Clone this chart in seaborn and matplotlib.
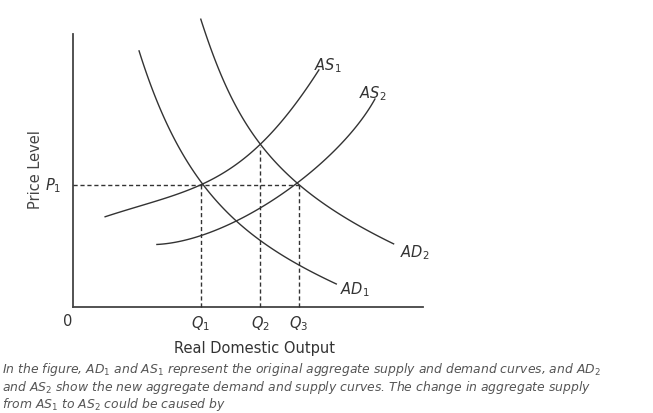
import matplotlib
matplotlib.use("Agg")
import matplotlib.pyplot as plt
import seaborn as sns
import pandas as pd
import numpy as np

# curve points (output, price) in chart units
as1_x = [32, 67, 102, 128, 157, 185, 217, 245]
as1_y = [90, 101, 113, 122, 138, 160, 196, 236]
as2_x = [84, 117, 157, 187, 226, 257, 282, 302]
as2_y = [61, 70, 86, 96, 122, 153, 183, 206]
ad1_x = [65, 87, 107, 128, 157, 187, 226, 262]
ad1_y = [256, 203, 160, 122, 90, 68, 43, 23]
ad2_x = [127, 147, 167, 187, 226, 267, 320]
ad2_y = [288, 238, 195, 160, 122, 94, 63]
q_labels = ["Q$_\\mathit{1}$", "Q$_\\mathit{2}$", "Q$_\\mathit{3}$"]
q_vals = [128, 187, 226]
p1_val = 122

def smooth(xs, ys, deg=3, n=120):
    # smooth the drawn line through the read points
    t = np.arange(len(xs))
    tt = np.linspace(0, len(xs) - 1, n)
    return np.polyval(np.polyfit(t, xs, deg), tt), np.polyval(np.polyfit(t, ys, deg), tt)

rows = []
for name, xs, ys in [("AS1", as1_x, as1_y), ("AS2", as2_x, as2_y),
                     ("AD1", ad1_x, ad1_y), ("AD2", ad2_x, ad2_y)]:
    sx, sy = smooth(xs, ys)
    for i, (x, y) in enumerate(zip(sx, sy)):
        rows.append({"curve": name, "i": i, "x": x, "y": y})
df = pd.DataFrame(rows)

fig = plt.figure(figsize=(6.53, 4.14), dpi=100)
ax = fig.add_axes([0, 0, 1, 1])
ax.set_xlim(-73, 580)
ax.set_ylim(-106, 308)
ax.axis("off")

for name in ["AS1", "AS2", "AD1", "AD2"]:
    d = df[df.curve == name]
    sns.lineplot(data=d, x="x", y="y", sort=False, ax=ax, color="#333333", lw=1, legend=False)

ax.plot([0, 0], [0, 273], color="#444444", lw=1.3)
ax.plot([0, 350], [0, 0], color="#444444", lw=1.3)
ax.plot([0, q_vals[2]], [p1_val, p1_val], ls=(0, (3, 2)), color="#333333", lw=1)
ax.plot([q_vals[0], q_vals[0]], [0, p1_val], ls=(0, (3, 2)), color="#333333", lw=1)
ax.plot([q_vals[1], q_vals[1]], [0, 160], ls=(0, (3, 2)), color="#333333", lw=1)
ax.plot([q_vals[2], q_vals[2]], [0, p1_val], ls=(0, (3, 2)), color="#333333", lw=1)

fs = 10.5
ts = dict(fontsize=fs, color="#333333")
ax.text(255, 242, "$AS_\\mathit{1}$", ha="center", va="center", **ts)
ax.text(300, 214, "$AS_\\mathit{2}$", ha="center", va="center", **ts)
ax.text(342, 55, "$AD_\\mathit{2}$", ha="center", va="center", **ts)
ax.text(282, 18, "$AD_\\mathit{1}$", ha="center", va="center", **ts)
ax.text(-20, p1_val, "$P_\\mathit{1}$", ha="center", va="center", **ts)
for q, lab in zip(q_vals, q_labels):
    ax.text(q, -16, "$" + lab.replace("$", "") + "$", ha="center", va="center", **ts)
ax.text(-5, -14, "0", ha="center", va="center", fontsize=fs, color="#333333")
ax.text(182, -41, "Real Domestic Output", ha="center", va="center", fontsize=fs, color="#333333")
ax.text(-38, 138, "Price Level", rotation=90, ha="center", va="center", fontsize=fs, color="#444444")
cap = ("In the figure, AD$_\\mathit{1}$ and AS$_\\mathit{1}$ represent the original aggregate supply and demand curves, and AD$_\\mathit{2}$\n"
       "and AS$_\\mathit{2}$ show the new aggregate demand and supply curves. The change in aggregate supply\n"
       "from AS$_\\mathit{1}$ to AS$_\\mathit{2}$ could be caused by")
ax.text(-71, -53, cap, ha="left", va="top", fontsize=8.9, style="italic", color="#555555", linespacing=1.05)
fig.savefig("out.png", dpi=100)
